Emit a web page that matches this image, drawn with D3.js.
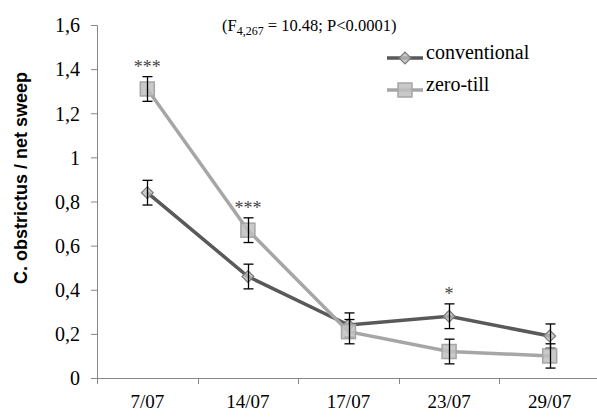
<!DOCTYPE html>
<html lang="en">
<head>
  <meta charset="utf-8">
  <title>C. obstrictus per net sweep</title>
  <style>
    body { margin: 0; background: #fff; }
    #chart text { font-family: "Liberation Serif", "Times New Roman", serif; fill: #000; }
    #chart .ylab { font-family: "Liberation Sans", Arial, sans-serif; font-weight: bold; }
  </style>
</head>
<body>
  <div id="chart"></div>
  <script src="https://d3js.org/d3.v7.min.js"></script>
  <script>
    var dates = ["7/07", "14/07", "17/07", "23/07", "29/07"];
    var conventional = [0.84, 0.46, 0.24, 0.28, 0.19];
    var conventionalErr = [0.056, 0.056, 0.055, 0.056, 0.055];
    var zeroTill = [1.31, 0.67, 0.21, 0.12, 0.10];
    var zeroTillErr = [0.056, 0.056, 0.055, 0.056, 0.055];
    var stars = ["***", "***", "", "*", ""];
    var yTicks = [0, 0.2, 0.4, 0.6, 0.8, 1, 1.2, 1.4, 1.6];

    var margin = { top: 25, right: 0, bottom: 41, left: 97 },
      width = 597 - margin.left - margin.right,
      height = 419 - margin.top - margin.bottom;

    var svg = d3.select("#chart")
      .append("svg")
      .attr("width", 597)
      .attr("height", 419);

    var g = svg.append("g")
      .attr("transform", "translate(" + margin.left + "," + margin.top + ")");

    var x = d3.scaleBand().domain(dates).range([0, width + 3]);
    var y = d3.scaleLinear().domain([0, 1.6]).range([height, 0]);
    var fmt = function (d) { return String(d).replace(".", ","); };

    // y axis
    var ya = g.append("g")
      .call(d3.axisLeft(y).tickValues(yTicks).tickFormat(fmt).tickSize(6).tickPadding(11));
    ya.select(".domain").attr("stroke", "#868686").attr("d", "M-6,0.5H0.5V" + (height + 0.5));
    ya.selectAll(".tick line").attr("stroke", "#868686");
    ya.selectAll(".tick text").style("font-size", "20px").attr("dy", "0.34em");

    // x axis
    var xa = g.append("g")
      .attr("transform", "translate(0," + height + ")")
      .call(d3.axisBottom(x).tickSize(0).tickPadding(17));
    xa.select(".domain").attr("stroke", "#868686").attr("d", "M0,0.5H" + (width + 3));
    xa.selectAll(".tick text").style("font-size", "19px");
    g.append("g").selectAll("line")
      .data(dates)
      .enter().append("line")
      .attr("x1", function (d) { return Math.round(x(d)) + 0.5; })
      .attr("x2", function (d) { return Math.round(x(d)) + 0.5; })
      .attr("y1", height)
      .attr("y2", height + 6)
      .attr("stroke", "#868686");

    var cx = function (i) { return x(dates[i]) + x.bandwidth() / 2; };

    var series = [
      { name: "conventional", values: conventional, err: conventionalErr, line: "#595959", fill: "#bdbdbd", stroke: "#7a7a7a", shape: "diamond" },
      { name: "zero-till", values: zeroTill, err: zeroTillErr, line: "#a6a6a6", fill: "#bfbfbf", stroke: "#a6a6a6", shape: "square" }
    ];

    var line = d3.line()
      .x(function (d, i) { return cx(i); })
      .y(function (d) { return y(d); });

    function marker(sel, s) {
      if (s.shape === "diamond") {
        sel.append("path")
          .attr("d", d3.symbol().type(d3.symbolSquare).size(70))
          .attr("transform", function (d) { return d.t + " rotate(45)"; })
          .attr("fill", s.fill).attr("fill-opacity", 0.8)
          .attr("stroke", s.stroke).attr("stroke-width", 1.2);
      } else {
        sel.append("rect")
          .attr("x", -7).attr("y", -7).attr("width", 14).attr("height", 14)
          .attr("transform", function (d) { return d.t; })
          .attr("fill", s.fill).attr("fill-opacity", 0.85)
          .attr("stroke", s.stroke).attr("stroke-width", 1.5);
      }
    }

    series.forEach(function (s) {
      g.append("path")
        .datum(s.values)
        .attr("fill", "none")
        .attr("stroke", s.line)
        .attr("stroke-width", 3.5)
        .attr("d", line);

      var pts = s.values.map(function (v, i) {
        return { t: "translate(" + cx(i) + "," + y(v) + ")", i: i, v: v };
      });
      marker(g.append("g").selectAll("g").data(pts).enter(), s);

      var eb = g.append("g").attr("stroke", "#000").attr("stroke-width", 1.3);
      s.values.forEach(function (v, i) {
        var x0 = Math.round(cx(i)) + 0.5, t = y(v + s.err[i]), b = y(v - s.err[i]);
        eb.append("line").attr("x1", x0).attr("x2", x0).attr("y1", t).attr("y2", b);
        eb.append("line").attr("x1", x0 - 5).attr("x2", x0 + 5).attr("y1", t).attr("y2", t);
        eb.append("line").attr("x1", x0 - 5).attr("x2", x0 + 5).attr("y1", b).attr("y2", b);
      });
    });

    // significance stars
    g.selectAll(".star")
      .data(stars)
      .enter().append("text")
      .attr("class", "star")
      .attr("x", function (d, i) { return cx(i); })
      .attr("y", function (d, i) { return y(Math.max(conventional[i], zeroTill[i]) + zeroTillErr[i]) - 4; })
      .attr("text-anchor", "middle")
      .style("font-size", "18px")
      .style("fill", "#444")
      .text(function (d) { return d; });

    // F statistic
    var ft = svg.append("text")
      .attr("x", 222).attr("y", 31)
      .style("font-size", "16.5px");
    ft.append("tspan").text("(F");
    ft.append("tspan").attr("dy", 4).style("font-size", "12px").text("4,267");
    ft.append("tspan").attr("dy", -4).text(" = 10.48; P<0.0001)");

    // legend
    var leg = svg.append("g").attr("transform", "translate(387,58)");
    series.forEach(function (s, k) {
      var row = leg.append("g").attr("transform", "translate(0," + (k * 32) + ")");
      row.append("line").attr("x1", 0).attr("x2", 36).attr("y1", 0).attr("y2", 0)
        .attr("stroke", s.line).attr("stroke-width", 3.5);
      marker(row.selectAll("g").data([{ t: "translate(18,0)" }]).enter(), s);
      row.append("text").attr("x", 39).attr("y", 1).style("font-size", "20px").text(s.name);
    });

    // y label
    svg.append("text")
      .attr("class", "ylab")
      .attr("transform", "translate(27,178) rotate(-90)")
      .attr("text-anchor", "middle")
      .style("font-size", "18px")
      .text("C. obstrictus / net sweep");
  </script>
</body>
</html>
